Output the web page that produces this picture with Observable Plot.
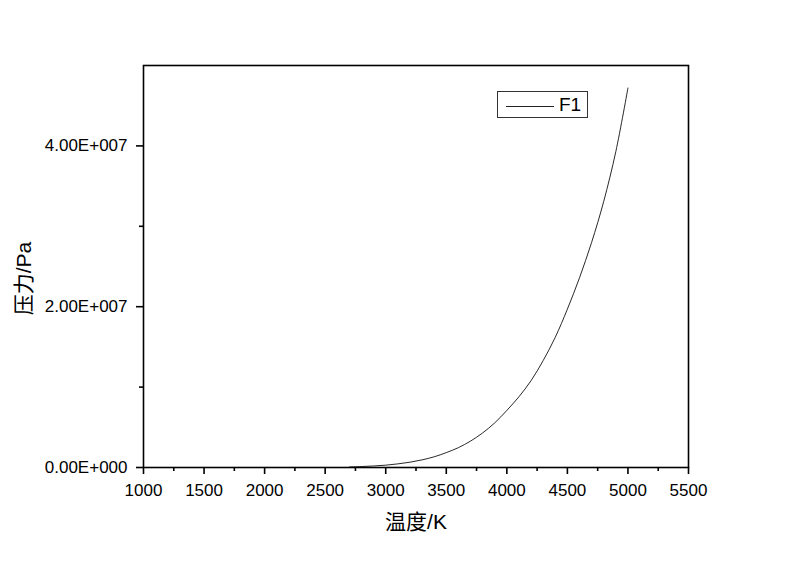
<!DOCTYPE html>
<html>
<head>
<meta charset="utf-8">
<script src="https://cdn.jsdelivr.net/npm/d3@7"></script>
<script src="https://cdn.jsdelivr.net/npm/@observablehq/plot@0.6"></script>
<style>
  html, body { margin: 0; padding: 0; background: #fff; }
  #wrap { position: relative; width: 800px; height: 561px; font-family: "Liberation Sans", Arial, "Noto Sans CJK SC", sans-serif; }
  #legend { position: absolute; left: 497px; top: 91px; width: 91px; height: 27px; border: 1px solid #333; box-sizing: border-box; background: #fff; }
  #legend .sw { position: absolute; left: 8px; top: 14px; width: 48px; height: 0; border-top: 1px solid #222; }
  #legend .lb { position: absolute; left: 61px; top: 2px; font-size: 19px; line-height: 21px; color: #000; }
</style>
</head>
<body>
<div id="wrap"><div id="legend"><div class="sw"></div><div class="lb">F1</div></div></div>
<script>
// Temperature (K)
const temperature = [2700, 2800, 2900, 3000, 3100, 3200, 3300, 3400, 3500, 3600, 3700, 3800, 3900, 4000, 4100, 4200, 4300, 4400, 4500, 4600, 4700, 4800, 4900, 5000];
// Pressure (Pa), series F1
const pressureF1 = [7.0e4, 1.2e5, 1.9e5, 2.9e5, 4.5e5, 6.6e5, 9.5e5, 1.33e6, 1.85e6, 2.47e6, 3.28e6, 4.3e6, 5.55e6, 7.1e6, 8.8e6, 1.08e7, 1.33e7, 1.62e7, 1.97e7, 2.36e7, 2.80e7, 3.31e7, 3.93e7, 4.72e7];
const seriesName = "F1";
const xTicks = [1000, 1500, 2000, 2500, 3000, 3500, 4000, 4500, 5000, 5500];
const xMinorTicks = [1250, 1750, 2250, 2750, 3250, 3750, 4250, 4750, 5250];
const yTicks = [0, 2e7, 4e7];
const yTickLabels = ["0.00E+000", "2.00E+007", "4.00E+007"];
const yMinorTicks = [1e7, 3e7];
const xTitle = "温度/K";
const yTitle = "压力/Pa";

const data = temperature.map((t, i) => ({T: t, P: pressureF1[i], s: seriesName}));

const chart = Plot.plot({
  width: 800,
  height: 561,
  marginLeft: 143,
  marginRight: 112,
  marginTop: 65,
  marginBottom: 94,
  style: {fontFamily: '"Liberation Sans", Arial, "Noto Sans CJK SC", sans-serif', background: "#fff", color: "#000"},
  x: {domain: [1000, 5500]},
  y: {domain: [0, 5e7]},
  marks: [
    Plot.line(data, {x: "T", y: "P", stroke: "#111", strokeWidth: 0.9, curve: "catmull-rom"}),
    Plot.frame({stroke: "#000", strokeWidth: 1.6}),
    Plot.axisX({ticks: xTicks, tickSize: 7, tickPadding: 9, fontSize: 17, label: null, strokeWidth: 1.6, tickFormat: d => String(d)}),
    Plot.axisX({ticks: xMinorTicks, tickSize: 4, label: null, strokeWidth: 1.6, tickFormat: () => ""}),
    Plot.axisY({ticks: yTicks, tickSize: 7, tickPadding: 9, fontSize: 17, label: null, strokeWidth: 1.6, tickFormat: d => yTickLabels[yTicks.indexOf(d)]}),
    Plot.axisY({ticks: yMinorTicks, tickSize: 4, label: null, strokeWidth: 1.6, tickFormat: () => ""}),
    Plot.text([xTitle], {frameAnchor: "bottom", textAnchor: "middle", lineAnchor: "middle", dy: 55, fontSize: 21, fill: "#000"}),
    Plot.text([yTitle], {frameAnchor: "left", textAnchor: "middle", lineAnchor: "middle", dx: -119, dy: 12, rotate: -90, fontSize: 21, fill: "#000"})
  ]
});
document.getElementById("wrap").prepend(chart);
</script>
</body>
</html>
